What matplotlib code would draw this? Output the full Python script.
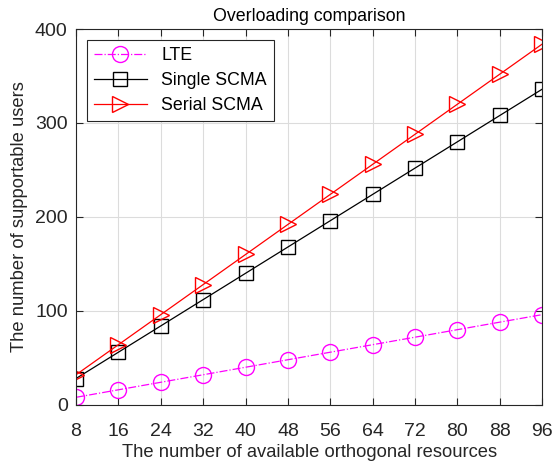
import matplotlib.pyplot as plt
import numpy as np

plt.rcParams['font.family'] = ['Liberation Sans', 'DejaVu Sans']

resources = [8, 16, 24, 32, 40, 48, 56, 64, 72, 80, 88, 96]
lte_users = [8, 16, 24, 32, 40, 48, 56, 64, 72, 80, 88, 96]
single_scma = [28, 56, 84, 112, 140, 168, 196, 224, 252, 280, 308, 336]
serial_scma = [32, 64, 96, 128, 160, 192, 224, 256, 288, 320, 352, 384]

fig = plt.figure(figsize=(5.55, 4.68), dpi=100)
ax = fig.add_axes([0.137, 0.135, 0.840, 0.803])

ax.plot(resources, lte_users, '-.o', color='magenta', lw=0.9, ms=11.5,
        mfc='none', mew=1.0, label='LTE')
ax.plot(resources, single_scma, '-s', color='black', lw=0.9, ms=10,
        mfc='none', mew=1.0, label='Single SCMA')
ax.plot(resources, serial_scma, '->', color='red', lw=0.9, ms=12,
        mfc='none', mew=1.0, label='Serial SCMA')

ax.set_xlim(8, 96)
ax.set_ylim(0, 400)
ax.set_xticks(resources)
ax.set_yticks([0, 100, 200, 300, 400])
ax.grid(True, color='#dcdcdc', lw=0.8)
ax.set_axisbelow(True)
ax.tick_params(direction='in', top=True, right=True, labelsize=14,
               colors='#262626', length=5, width=0.8)
ax.tick_params(axis='x', pad=13)
ax.tick_params(axis='y', pad=6)
for s in ax.spines.values():
    s.set_color('#262626')
    s.set_linewidth(0.8)

ax.set_xlabel('The number of available orthogonal resources', fontsize=13.2,
              color='#262626', labelpad=3)
ax.set_ylabel('The number of supportable users', fontsize=13.2,
              color='#262626', labelpad=5)
ax.set_title('Overloading comparison', fontsize=12.8, pad=6)

leg = ax.legend(loc='upper left', fontsize=12.8, fancybox=False,
                edgecolor='#262626', framealpha=1, handlelength=3,
                borderaxespad=0.6, labelspacing=0.45)
leg.get_frame().set_linewidth(0.8)

fig.savefig('out.png', dpi=100)
